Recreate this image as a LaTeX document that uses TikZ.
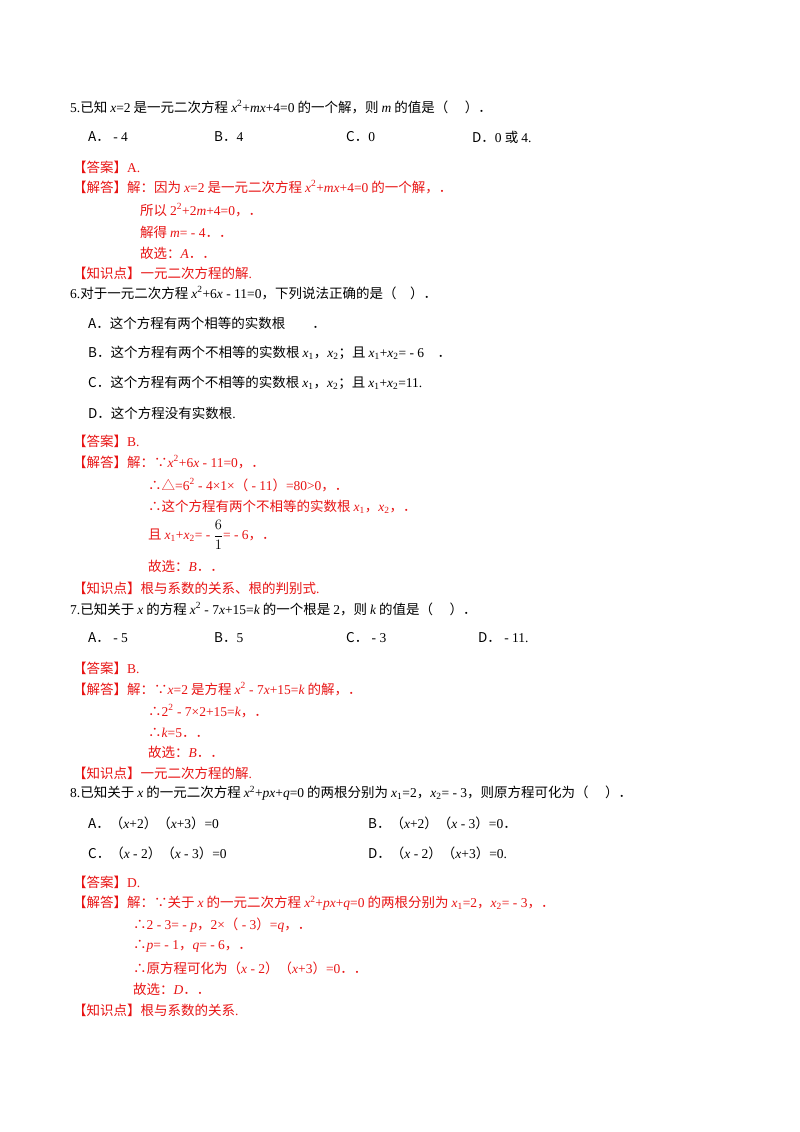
\documentclass[tikz,border=0pt]{standalone}
\usepackage{fontspec}
\setmainfont{Noto Sans CJK SC}
\newfontfamily\lat{Liberation Serif}
\definecolor{ans}{RGB}{232,20,20}
\newcommand\Vv[1]{{\lat\itshape #1}}
\newcommand\Ln[1]{{\lat #1}}
\tikzset{t/.style={anchor=west,inner sep=0pt,font=\fontsize{13.5}{15}\selectfont},r/.style={t,text=ans}}
\begin{document}
\begin{tikzpicture}[x=1pt,y=-1pt]
\useasboundingbox[fill=white] (0,0) rectangle (800,1132);
% Q5
\node[t] (q5) at (70,107) {\Ln{5.}已知 \Vv{x}\Ln{=2} 是一元二次方程 \Vv{x}\Ln{\textsuperscript{2}+}\Vv{mx}\Ln{+4=0} 的一个解，则 \Vv{m} 的值是（\quad\ ）．};
\node[t] (q5a) at (88,137) {A．\Ln{ - 4}};
\node[t] (q5b) at (214,137) {B．\Ln{4}};
\node[t] (q5c) at (346,137) {C．\Ln{0}};
\node[t] (q5d) at (472,137) {D．\Ln{0} 或 \Ln{4.}};
\node[r] (a5) at (73,167) {【答案】\Ln{A.}};
\node[r] (s5) at (73,187) {【解答】解：因为 \Vv{x}\Ln{=2} 是一元二次方程 \Vv{x}\Ln{\textsuperscript{2}+}\Vv{mx}\Ln{+4=0} 的一个解，．};
\node[r] (s5b) at (140,210) {所以 \Ln{2\textsuperscript{2}+2}\Vv{m}\Ln{+4=0}，．};
\node[r] (s5c) at (140,232) {解得 \Vv{m}\Ln{= - 4}．．};
\node[r] (s5d) at (140,253) {故选：\Vv{A}．．};
\node[r] (k5) at (73,273) {【知识点】一元二次方程的解\Ln{.}};
% Q6
\node[t] (q6) at (70,293) {\Ln{6.}对于一元二次方程 \Vv{x}\Ln{\textsuperscript{2}+6}\Vv{x}\Ln{ - 11=0}，下列说法正确的是（\quad ）．};
\node[t] (q6a) at (88,323) {A．这个方程有两个相等的实数根\qquad ．};
\node[t] (q6b) at (88,353) {B．这个方程有两个不相等的实数根 \Vv{x}\Ln{\textsubscript{1}}，\Vv{x}\Ln{\textsubscript{2}}；且 \Vv{x}\Ln{\textsubscript{1}+}\Vv{x}\Ln{\textsubscript{2}= - 6}\quad ．};
\node[t] (q6c) at (88,383) {C．这个方程有两个不相等的实数根 \Vv{x}\Ln{\textsubscript{1}}，\Vv{x}\Ln{\textsubscript{2}}；且 \Vv{x}\Ln{\textsubscript{1}+}\Vv{x}\Ln{\textsubscript{2}=11.}};
\node[t] (q6d) at (88,413) {D．这个方程没有实数根\Ln{.}};
\node[r] (a6) at (73,441) {【答案】\Ln{B.}};
\node[r] (s6) at (73,462) {【解答】解：∵\Vv{x}\Ln{\textsuperscript{2}+6}\Vv{x}\Ln{ - 11=0}，．};
\node[r] (s6b) at (148,485) {∴△\Ln{=6\textsuperscript{2} - 4×1×}（\Ln{ - 11}）\Ln{=80>0}，．};
\node[r] (s6c) at (148,507) {∴这个方程有两个不相等的实数根 \Vv{x}\Ln{\textsubscript{1}}，\Vv{x}\Ln{\textsubscript{2}}，．};
\node[r] (s6d) at (148,535) {且 \Vv{x}\Ln{\textsubscript{1}+}\Vv{x}\Ln{\textsubscript{2}= - }\textcolor{black}{$\displaystyle\frac{6}{1}$}\Ln{= - 6}，．};
\node[r] (s6e) at (148,566) {故选：\Vv{B}．．};
\node[r] (k6) at (73,588) {【知识点】根与系数的关系、根的判别式\Ln{.}};
% Q7
\node[t] (q7) at (70,609) {\Ln{7.}已知关于 \Vv{x} 的方程 \Vv{x}\Ln{\textsuperscript{2} - 7}\Vv{x}\Ln{+15=}\Vv{k} 的一个根是 \Ln{2}，则 \Vv{k} 的值是（\quad\ ）．};
\node[t] (q7a) at (88,638) {A．\Ln{ - 5}};
\node[t] (q7b) at (214,638) {B．\Ln{5}};
\node[t] (q7c) at (346,638) {C．\Ln{ - 3}};
\node[t] (q7d) at (478,638) {D．\Ln{ - 11.}};
\node[r] (a7) at (73,668) {【答案】\Ln{B.}};
\node[r] (s7) at (73,689) {【解答】解：∵\Vv{x}\Ln{=2} 是方程 \Vv{x}\Ln{\textsuperscript{2} - 7}\Vv{x}\Ln{+15=}\Vv{k} 的解，．};
\node[r] (s7b) at (148,711) {∴\Ln{2\textsuperscript{2} - 7×2+15=}\Vv{k}，．};
\node[r] (s7c) at (148,733) {∴\Vv{k}\Ln{=5}．．};
\node[r] (s7d) at (148,752) {故选：\Vv{B}．．};
\node[r] (k7) at (73,773) {【知识点】一元二次方程的解\Ln{.}};
% Q8
\node[t] (q8) at (70,793) {\Ln{8.}已知关于 \Vv{x} 的一元二次方程 \Vv{x}\Ln{\textsuperscript{2}+}\Vv{px}\Ln{+}\Vv{q}\Ln{=0} 的两根分别为 \Vv{x}\Ln{\textsubscript{1}=2}，\Vv{x}\Ln{\textsubscript{2}= - 3}，则原方程可化为（\quad\ ）．};
\node[t] (q8a) at (88,823) {A．（\Vv{x}\Ln{+2}）（\Vv{x}\Ln{+3}）\Ln{=0}};
\node[t] (q8b) at (368,823) {B．（\Vv{x}\Ln{+2}）（\Vv{x}\Ln{ - 3}）\Ln{=0}．};
\node[t] (q8c) at (88,853) {C．（\Vv{x}\Ln{ - 2}）（\Vv{x}\Ln{ - 3}）\Ln{=0}};
\node[t] (q8d) at (368,853) {D．（\Vv{x}\Ln{ - 2}）（\Vv{x}\Ln{+3}）\Ln{=0.}};
\node[r] (a8) at (73,882) {【答案】\Ln{D.}};
\node[r] (s8) at (73,903) {【解答】解：∵关于 \Vv{x} 的一元二次方程 \Vv{x}\Ln{\textsuperscript{2}+}\Vv{px}\Ln{+}\Vv{q}\Ln{=0} 的两根分别为 \Vv{x}\Ln{\textsubscript{1}=2}，\Vv{x}\Ln{\textsubscript{2}= - 3}，．};
\node[r] (s8b) at (133,925) {∴\Ln{2 - 3= - }\Vv{p}，\Ln{2×}（\Ln{ - 3}）\Ln{=}\Vv{q}，．};
\node[r] (s8c) at (133,946) {∴\Vv{p}\Ln{= - 1}，\Vv{q}\Ln{= - 6}，．};
\node[r] (s8d) at (133,968) {∴原方程可化为（\Vv{x}\Ln{ - 2}）（\Vv{x}\Ln{+3}）\Ln{=0}．．};
\node[r] (s8e) at (133,989) {故选：\Vv{D}．．};
\node[r] (k8) at (73,1010) {【知识点】根与系数的关系\Ln{.}};
\end{tikzpicture}
\end{document}
